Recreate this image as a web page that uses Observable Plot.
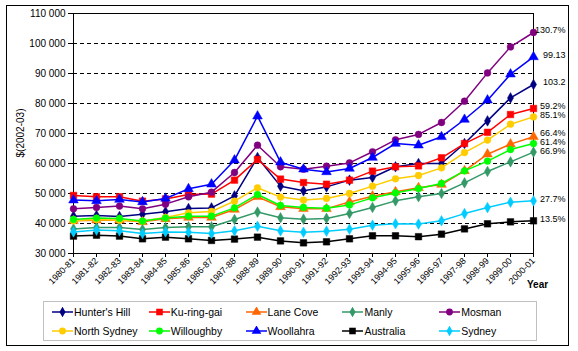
<!DOCTYPE html>
<html>
<head>
<meta charset="utf-8">
<script src="https://cdn.jsdelivr.net/npm/d3@7"></script>
<script src="https://cdn.jsdelivr.net/npm/@observablehq/plot@0.6"></script>
<style>
  html, body { margin: 0; padding: 0; background: #fff; }
  #wrap { position: relative; width: 578px; height: 351px; font-family: "Liberation Sans", Arial, sans-serif; overflow: hidden; }
  #border { position: absolute; left: 6px; top: 5px; width: 563px; height: 341px; border: 1px solid #000; box-sizing: border-box; pointer-events: none; }
  #ytitle { position: absolute; left: 20px; top: 133px; transform: translate(-50%, -50%) rotate(-90deg); font-size: 10px; white-space: nowrap; }
  #year { position: absolute; left: 527px; top: 279px; font-size: 10px; font-weight: bold; }
  #legend { position: absolute; left: 43px; top: 301px; width: 494px; height: 40px; border: 1px solid #c0c0c0; box-sizing: border-box; display: grid; grid-template-columns: repeat(5, 1fr); grid-template-rows: 1fr 1fr; padding-left: 8px; }
  .item { display: flex; align-items: center; font-size: 10.5px; white-space: nowrap; }
</style>
</head>
<body>
<div id="wrap">
  <div id="chart"></div>
  <div id="ytitle">$(2002-03)</div>
  <div id="year">Year</div>
  <div id="legend"></div>
  <div id="border"></div>
</div>
<script>
const years = ["1980-81","1981-82","1982-83","1983-84","1984-85","1985-86","1986-87","1987-88","1988-89","1989-90","1990-91","1991-92","1992-93","1993-94","1994-95","1995-96","1996-97","1997-98","1998-99","1999-00","2000-01"];
const seriesNames = ["Hunter's Hill","Ku-ring-gai","Lane Cove","Manly","Mosman","North Sydney","Willoughby","Woollahra","Australia","Sydney"];
const seriesColors = ["#000080","#ff0000","#ff6600","#339966","#800080","#ffcc00","#00ff00","#0000ff","#000000","#00ccff"];
const seriesSymbols = ["diamond","square","triangle","diamond","circle","circle","circle","triangle","square","diamond"];
const endLabels = ["103.2","59.2%","66.4%","66.9%","130.7%","85.1%","61.4%","99.13","13.5%","27.7%"];
const yTicks = [30000,40000,50000,60000,70000,80000,90000,100000,110000];

const huntersHill = [42450,42650,42350,43100,43900,45000,45200,49200,62000,52450,50900,52200,54450,55350,58900,60000,60000,66650,74200,81870,86330];
const kuringgai   = [49350,48900,48900,47450,48200,49650,49800,54450,61350,54800,53650,53100,54450,57450,58900,59200,61900,66650,70400,76330,78330];
const laneCove    = [40900,41100,41100,40550,41550,42000,42000,44650,48900,45550,44900,44900,47200,49100,50550,51900,53000,57550,63100,66450,68900];
const manly       = [38200,38650,38650,38000,38650,38900,38900,41350,43800,41900,41450,41700,43350,45350,47550,48900,50000,53550,57350,60550,63800];
const mosman      = [44900,45350,45800,44900,46450,48900,50450,57000,66100,58900,58100,59100,60200,63900,67900,69700,73670,80770,90200,98870,103670];
const northSydney = [40900,41350,41100,40800,42000,43550,44000,47450,51900,48800,47800,48350,50000,52450,54900,56000,58550,63650,67800,73100,75530];
const willoughby  = [41350,41800,41700,40800,41800,42450,42450,45200,49650,46000,45350,45100,46200,48550,50200,51650,53350,57550,60800,64650,66650];
const woollahra   = [47800,47550,48000,47200,48350,51550,53100,61100,75770,60430,58100,57200,58350,62000,66650,66100,68900,74670,81100,89770,95530];
const australia   = [35800,36100,35800,34900,35450,34900,34350,34800,35450,34200,33550,33900,34900,35900,35900,35600,36450,38200,39900,40550,40900];
const sydney      = [37200,37800,37550,36650,37200,37100,36650,37550,39100,37550,37100,37450,38100,39450,39900,39800,40900,43300,45300,47100,47550];

const seriesValues = [huntersHill,kuringgai,laneCove,manly,mosman,northSydney,willoughby,woollahra,australia,sydney];
const symbolR = {diamond: 3.2, square: 3.7, triangle: 3.6, circle: 3.4};

const fmt = d => d3.format(",")(d).replace(/,/g, " ");

const marks = [
  Plot.ruleY(yTicks.slice(1, -1), {stroke: "#000", strokeWidth: 1, strokeDasharray: "4,3"}),
  Plot.ruleY([yTicks[yTicks.length - 1]], {stroke: "#000", strokeWidth: 1}),
  Plot.ruleX([years[years.length - 1]], {stroke: "#000", strokeWidth: 1}),
  Plot.ruleX([years[0]], {stroke: "#000", strokeWidth: 1}),
  Plot.ruleY([yTicks[0]], {stroke: "#000", strokeWidth: 1}),
  Plot.axisY({ticks: yTicks, tickFormat: fmt, tickSize: 5, tickPadding: 3, label: null, fontSize: 10}),
  Plot.axisX({tickRotate: -45, tickSize: 4, tickPadding: 2, label: null, fontSize: 9})
];

seriesNames.forEach((name, s) => {
  const data = years.map((y, i) => ({year: y, value: seriesValues[s][i]}));
  marks.push(Plot.line(data, {x: "year", y: "value", stroke: seriesColors[s], strokeWidth: 1.5}));
  marks.push(Plot.dot(data, {x: "year", y: "value", fill: seriesColors[s], stroke: seriesColors[s], strokeWidth: 0.5, symbol: seriesSymbols[s], r: symbolR[seriesSymbols[s]]}));
});

// end-of-line labels, spread apart so they do not collide
const last = years.length - 1;
const ends = seriesNames.map((name, s) => ({year: years[last], value: seriesValues[s][last], label: endLabels[s]}));
const sorted = ends.slice().sort((a, b) => b.value - a.value);
sorted.forEach(d => d.ly = d.value);
const minGap = 3100; // in data units (~9.3px)
for (let iter = 0; iter < 200; iter++) {
  for (let k = 0; k < sorted.length - 1; k++) {
    const a = sorted[k], b = sorted[k + 1];
    const gap = a.ly - b.ly;
    if (gap < minGap) {
      const push = (minGap - gap) / 2;
      a.ly += push; b.ly -= push;
    }
  }
}
marks.push(Plot.text(ends, {x: "year", y: "ly", text: "label", dx: 32, dy: -2, textAnchor: "end", fontSize: 9, fill: "#000"}));

const chart = Plot.plot({
  width: 578,
  height: 300,
  marginLeft: 73,
  marginRight: 45,
  marginTop: 13,
  marginBottom: 47,
  style: {fontFamily: "'Liberation Sans', Arial, sans-serif", fontSize: "10px", background: "transparent", color: "#000", overflow: "visible"},
  x: {type: "point", domain: years, padding: 0},
  y: {domain: [30000, 110000]},
  marks
});
document.getElementById("chart").appendChild(chart);

// legend
const legend = d3.select("#legend");
seriesNames.forEach((name, s) => {
  const item = legend.append("div").attr("class", "item");
  const svg = item.append("svg").attr("width", 22).attr("height", 10);
  svg.append("line").attr("x1", 0).attr("x2", 21).attr("y1", 5).attr("y2", 5).attr("stroke", seriesColors[s]).attr("stroke-width", 1.5);
  const sym = {diamond: d3.symbolDiamond, square: d3.symbolSquare, triangle: d3.symbolTriangle, circle: d3.symbolCircle}[seriesSymbols[s]];
  const r = symbolR[seriesSymbols[s]];
  svg.append("path").attr("transform", "translate(10.5,5)").attr("d", d3.symbol(sym, Math.PI * r * r)()).attr("fill", seriesColors[s]);
  item.append("span").text(name);
});
</script>
</body>
</html>
